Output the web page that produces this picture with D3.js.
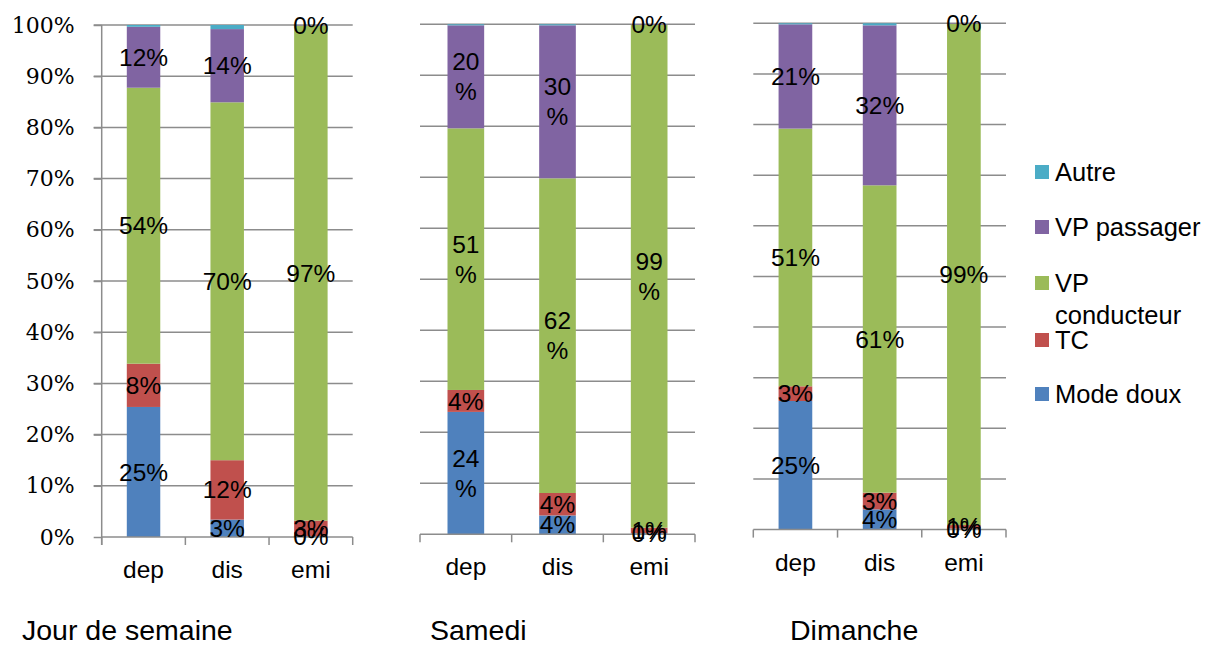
<!DOCTYPE html>
<html>
<head>
<meta charset="utf-8">
<script src="https://cdn.jsdelivr.net/npm/d3@7"></script>
<style>
  html, body { margin: 0; padding: 0; background: #fff; }
  svg { display: block; }
</style>
</head>
<body>
<svg id="chart" width="1209" height="646"></svg>
<script>
// ---- DATA ----
const categories = ["dep", "dis", "emi"];
const panelTitles = ["Jour de semaine", "Samedi", "Dimanche"];
const seriesNames = ["Mode doux", "TC", "VP conducteur", "VP passager", "Autre"];
const yTicks = [0, 10, 20, 30, 40, 50, 60, 70, 80, 90, 100];
// values in % : one inner array per panel, one value per category
const modeDoux     = [[25.4, 3.4, 0.2], [24.0, 3.7, 0.2], [25.4, 4.0, 0.2]];
const tc           = [[8.45, 11.6, 3.0], [4.3, 4.4, 1.1], [2.9, 3.3, 0.7]];
const vpConducteur = [[53.9, 69.9, 96.7], [51.3, 61.7, 98.6], [50.9, 60.7, 99.0]];
const vpPassager   = [[11.9, 14.3, 0.1], [20.2, 30.0, 0.1], [20.6, 31.6, 0.1]];
const autre        = [[0.35, 0.8, 0], [0.2, 0.2, 0], [0.2, 0.4, 0]];
const seriesValues = [modeDoux, tc, vpConducteur, vpPassager, autre];
const seriesLabelled = [true, true, true, true, false];

// ---- STYLE / LAYOUT ----
const colors = ["#4f81bd", "#c0504d", "#9bbb59", "#8064a2", "#4bacc6"];
const panelLayout = [
  { left: 101.7, right: 352.7, top: 25.0, bottom: 537.0, yAxis: true,  wrap: false, titleX: 22 },
  { left: 420.0, right: 695.0, top: 24.3, bottom: 534.3, yAxis: false, wrap: true,  titleX: 430 },
  { left: 753.3, right: 1006.0, top: 23.3, bottom: 529.6, yAxis: false, wrap: false, titleX: 790 }
];
const gridColor = "#8c8c8c";
const sans = "'Liberation Sans', Arial, Helvetica, sans-serif";
const serif = "'DejaVu Serif', serif";

const svg = d3.select("#chart");

panelLayout.forEach((L, p) => {
  const g = svg.append("g");
  const x = d3.scaleBand().domain(categories).range([L.left, L.right])
    .paddingInner(0.6).paddingOuter(0.3);
  const y = d3.scaleLinear().domain([0, 100]).range([L.bottom, L.top]);
  const step = x.step();

  // gridlines
  g.append("g").selectAll("line").data(yTicks.filter(t => t > 0)).join("line")
    .attr("x1", L.yAxis ? L.left - 8 : L.left).attr("x2", L.right)
    .attr("y1", d => y(d)).attr("y2", d => y(d))
    .attr("stroke", gridColor).attr("stroke-width", 1.5);

  // y axis
  if (L.yAxis) {
    const ya = g.append("g").attr("transform", `translate(${L.left},0)`)
      .call(d3.axisLeft(y).tickValues(yTicks).tickSize(8).tickPadding(19).tickFormat(d => d + "%"));
    ya.select(".domain").attr("stroke", gridColor).attr("stroke-width", 1.5)
      .attr("d", `M0,${L.top}V${L.bottom + 8}`);
    ya.selectAll(".tick line").attr("stroke", gridColor).attr("stroke-width", 1.5);
    ya.selectAll(".tick text").attr("font-family", serif).attr("font-size", 22)
      .attr("fill", "#000");
  }

  // stacked bars
  const rows = categories.map((c, i) => {
    const o = { cat: c };
    seriesNames.forEach((s, k) => o[s] = seriesValues[k][p][i]);
    return o;
  });
  const stacked = d3.stack().keys(seriesNames)(rows);
  stacked.forEach((layer, k) => {
    g.append("g").selectAll("rect").data(layer).join("rect")
      .attr("x", d => x(d.data.cat))
      .attr("width", x.bandwidth())
      .attr("y", d => y(d[1]))
      .attr("height", d => Math.max(0, y(d[0]) - y(d[1])))
      .attr("fill", colors[k]);
  });

  // x axis line + ticks
  g.append("line").attr("x1", L.left).attr("x2", L.right)
    .attr("y1", L.bottom).attr("y2", L.bottom)
    .attr("stroke", gridColor).attr("stroke-width", 1.5);
  g.append("g").selectAll("line").data(d3.range(categories.length + 1)).join("line")
    .attr("x1", i => L.left + i * step).attr("x2", i => L.left + i * step)
    .attr("y1", L.bottom).attr("y2", L.bottom + 8)
    .attr("stroke", gridColor).attr("stroke-width", 1.5);

  // category labels
  g.append("g").selectAll("text").data(categories).join("text")
    .attr("x", d => x(d) + x.bandwidth() / 2)
    .attr("y", L.bottom + 41)
    .attr("text-anchor", "middle")
    .attr("font-family", sans).attr("font-size", 24.5).attr("fill", "#000")
    .text(d => d);

  // data labels
  stacked.forEach((layer, k) => {
    if (!seriesLabelled[k]) return;
    layer.forEach(d => {
      const v = d[1] - d[0];
      const label = Math.round(v) + "%";
      const cx = x(d.data.cat) + x.bandwidth() / 2;
      const cy = y((d[0] + d[1]) / 2);
      const t = g.append("text")
        .attr("text-anchor", "middle")
        .attr("font-family", sans).attr("font-size", 24.5).attr("fill", "#000");
      if (L.wrap && label.length > 2) {
        t.append("tspan").attr("x", cx).attr("y", cy - 15).attr("dy", "0.35em").text(label.slice(0, -1));
        t.append("tspan").attr("x", cx).attr("y", cy + 15).attr("dy", "0.35em").text("%");
      } else {
        t.attr("x", cx).attr("y", cy).attr("dy", "0.35em").text(label);
      }
    });
  });

  // panel title
  svg.append("text").attr("x", L.titleX).attr("y", 640)
    .attr("font-family", sans).attr("font-size", 28.5).attr("fill", "#000")
    .text(panelTitles[p]);
});

// legend (reverse order)
const legendOrder = d3.range(seriesNames.length).reverse();
const legendY = [172, 227, 283, 340, 394];
const lg = svg.append("g");
legendOrder.forEach((k, i) => {
  const cy = legendY[i];
  lg.append("rect").attr("x", 1035).attr("y", cy - 7).attr("width", 14).attr("height", 14)
    .attr("fill", colors[k]);
  const t = lg.append("text").attr("x", 1055).attr("y", cy).attr("dy", "0.35em")
    .attr("font-family", sans).attr("font-size", 25.5).attr("fill", "#000")
    .text(seriesNames[k]);
  if (t.node().getComputedTextLength() > 1209 - 1055) {
    const words = seriesNames[k].split(" ");
    t.text(null);
    t.append("tspan").attr("x", 1055).attr("y", cy).attr("dy", "0.35em").text(words[0]);
    t.append("tspan").attr("x", 1055).attr("y", cy + 32).attr("dy", "0.35em").text(words.slice(1).join(" "));
  }
});
</script>
</body>
</html>
